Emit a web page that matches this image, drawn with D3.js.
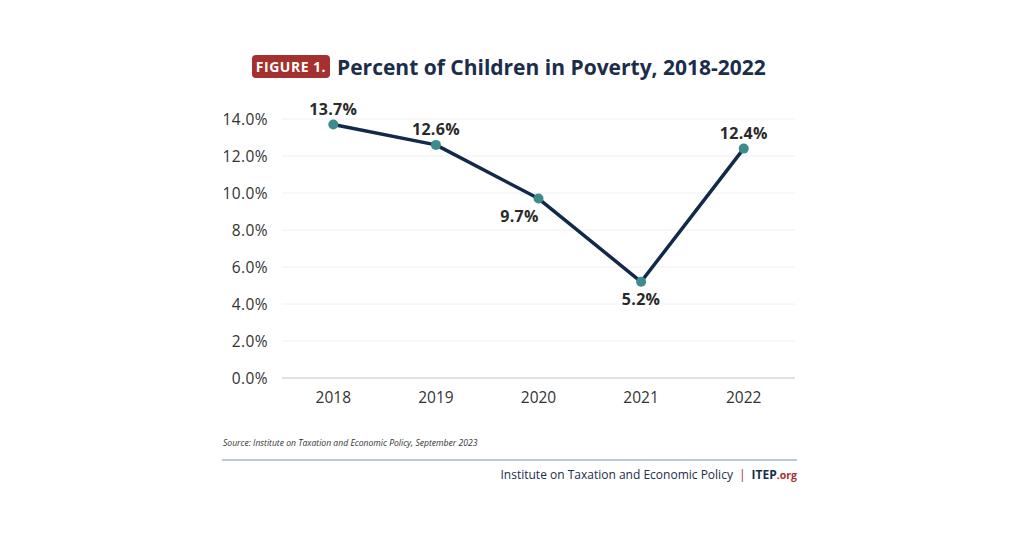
<!DOCTYPE html>
<html><head><meta charset="utf-8">
<script src="https://cdn.jsdelivr.net/npm/d3@7"></script>
<style>body{margin:0;background:#fff}svg{display:block}</style>
</head><body>
<svg id="c" width="1024" height="536"></svg>
<script>
const years = ["2018","2019","2020","2021","2022"];
const values = [13.7, 12.6, 9.7, 5.2, 12.4];
const yTicks = [0,2,4,6,8,10,12,14];
const labelPos = ["above","above","belowLeft","below","above"];

const svg = d3.select("#c");
const font = "'Open Sans', 'Noto Sans', sans-serif";
const x = d3.scaleBand().domain(years).range([282,795]);
const y = d3.scaleLinear().domain([0,14]).range([378,119]);

// gridlines
svg.append("g").selectAll("line").data(yTicks.filter(d=>d>0)).join("line")
  .attr("x1",282).attr("x2",795).attr("y1",d=>y(d)).attr("y2",d=>y(d))
  .attr("stroke","#f0f0f0").attr("stroke-width",1);
svg.append("line").attr("x1",282).attr("x2",795).attr("y1",y(0)).attr("y2",y(0))
  .attr("stroke","#d9d9d9").attr("stroke-width",1.5);

// y axis labels
svg.append("g").selectAll("text").data(yTicks).join("text")
  .attr("x",268).attr("y",d=>y(d)).attr("dy","0.36em").attr("text-anchor","end")
  .attr("font-family",font).attr("font-size",15.5).attr("fill","#333").attr("letter-spacing",0.4)
  .text(d=>d.toFixed(1)+"%");

// x labels
svg.append("g").selectAll("text").data(years).join("text")
  .attr("x",d=>x(d)+x.bandwidth()/2).attr("y",403).attr("text-anchor","middle")
  .attr("font-family",font).attr("font-size",15.5).attr("fill","#333").text(d=>d);

const pts = years.map((d,i)=>({year:d,v:values[i],pos:labelPos[i]}));
const cx = d=>x(d.year)+x.bandwidth()/2;
svg.append("path").datum(pts)
  .attr("d",d3.line().x(cx).y(d=>y(d.v)))
  .attr("fill","none").attr("stroke","#13294b").attr("stroke-width",3.5).attr("stroke-linejoin","round");
svg.append("g").selectAll("circle").data(pts).join("circle")
  .attr("cx",cx).attr("cy",d=>y(d.v)).attr("r",5).attr("fill","#3e8b8d");

svg.append("g").selectAll("text").data(pts).join("text")
  .attr("x",d=>d.pos==="belowLeft"?cx(d)-19:cx(d))
  .attr("y",d=>d.pos==="above"?y(d.v)-10:y(d.v)+23)
  .attr("text-anchor","middle").attr("font-family",font).attr("font-weight","bold")
  .attr("font-size",16).attr("fill","#2a2a2a").attr("letter-spacing",0.3).text(d=>d.v.toFixed(1)+"%");

// title
svg.append("rect").attr("x",252).attr("y",55).attr("width",78).attr("height",23).attr("rx",4).attr("fill","#a4302f");
svg.append("text").attr("x",291).attr("y",72).attr("text-anchor","middle").attr("font-family",font)
  .attr("font-weight","bold").attr("font-size",14).attr("fill","#fff").attr("letter-spacing",0.5).text("FIGURE 1.");
svg.append("text").attr("x",337).attr("y",75).attr("font-family",font).attr("font-weight","bold")
  .attr("font-size",21).attr("fill","#1b2d4b").text("Percent of Children in Poverty, 2018-2022");

// source
svg.append("text").attr("x",223).attr("y",446).attr("font-family",font).attr("font-style","italic")
  .attr("font-size",8.6).attr("fill","#333").text("Source: Institute on Taxation and Economic Policy, September 2023");
svg.append("line").attr("x1",222).attr("x2",797).attr("y1",460).attr("y2",460).attr("stroke","#7d8fa6").attr("stroke-width",1);

const ft = svg.append("text").attr("x",797).attr("y",479).attr("text-anchor","end").attr("font-family",font).attr("font-size",12);
ft.append("tspan").attr("fill","#1b2d4b").text("Institute on Taxation and Economic Policy ");
ft.append("tspan").attr("fill","#a4302f").attr("dx",3).text("|");
ft.append("tspan").attr("fill","#1b2d4b").attr("font-weight","bold").attr("dx",6).text("ITEP");
ft.append("tspan").attr("fill","#a4302f").attr("font-weight","bold").attr("font-size",10.5).text(".org");
</script>
</body></html>
